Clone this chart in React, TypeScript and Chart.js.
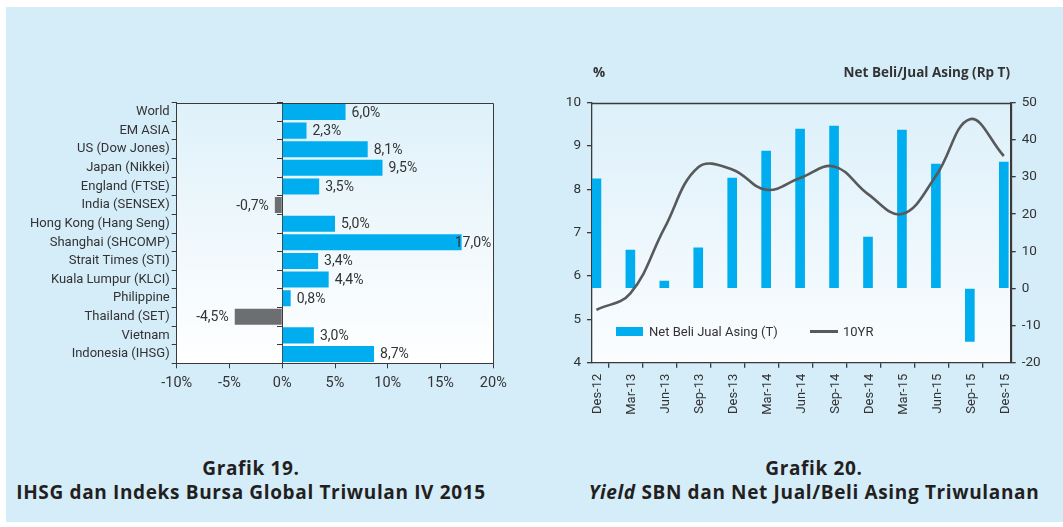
import React, { useEffect, useRef } from "react";
import { Chart, registerables } from "chart.js";

Chart.register(...registerables);

// ---------- Data: Grafik 19 ----------
const MARKETS = [
  "World",
  "EM ASIA",
  "US (Dow Jones)",
  "Japan (Nikkei)",
  "England (FTSE)",
  "India (SENSEX)",
  "Hong Kong (Hang Seng)",
  "Shanghai (SHCOMP)",
  "Strait Times (STI)",
  "Kuala Lumpur (KLCI)",
  "Philippine",
  "Thailand (SET)",
  "Vietnam",
  "Indonesia (IHSG)",
];
const RETURNS = [6.0, 2.3, 8.1, 9.5, 3.5, -0.7, 5.0, 17.0, 3.4, 4.4, 0.8, -4.5, 3.0, 8.7];
const RETURN_MIN = -10;
const RETURN_MAX = 20;
const RETURN_STEP = 5;

// ---------- Data: Grafik 20 ----------
const QUARTERS = [
  "Des-12", "Mar-13", "Jun-13", "Sep-13", "Des-13", "Mar-14", "Jun-14",
  "Sep-14", "Des-14", "Mar-15", "Jun-15", "Sep-15", "Des-15",
];
const NET_FOREIGN = [29.5, 10.3, 2.0, 10.9, 29.7, 37.0, 42.9, 43.7, 13.8, 42.6, 33.5, -14.3, 34.0];
const YIELD_10Y = [5.22, 5.6, 7.1, 8.51, 8.46, 7.99, 8.26, 8.53, 7.89, 7.43, 8.31, 9.62, 8.77];
const YIELD_MIN = 4;
const YIELD_MAX = 10;
const FLOW_MIN = -20;
const FLOW_MAX = 50;
const NET_LABEL = "Net Beli Jual Asing (T)";
const YIELD_LABEL = "10YR";
// dates sit a little after the quarter tick (month-end on a date axis)
const DATE_OFFSET = 0.13;
const AXIS_TAIL = 1 / 3;

const FONT = "Roboto, 'Open Sans', sans-serif";
const FONT_BOLD = "'Open Sans', 'Noto Sans', sans-serif";
const TEXT = "#333333";
const AXIS = "#3a3a3a";
const CYAN = "#00aeef";
const GREY_BAR = "#6d6e71";
const LINE = "#58595b";

const fmtPct = (v: number) => v.toFixed(1).replace(".", ",") + "%";

const plotFrame = (top: string, bottom: string, frame: boolean, lw: number) => ({
  id: "plotFrame",
  beforeDraw(chart: any) {
    const { ctx, chartArea: a } = chart;
    const g = ctx.createLinearGradient(0, a.top, 0, a.bottom);
    g.addColorStop(0, top);
    g.addColorStop(1, bottom);
    ctx.save();
    ctx.fillStyle = g;
    ctx.fillRect(a.left, a.top, a.right - a.left, a.bottom - a.top);
    ctx.restore();
  },
  beforeDatasetsDraw(chart: any) {
    if (!frame) return;
    const { ctx, chartArea: a } = chart;
    ctx.save();
    ctx.strokeStyle = AXIS;
    ctx.lineWidth = lw;
    ctx.beginPath();
    ctx.moveTo(Math.round(a.left), Math.round(a.top) + 0.5);
    ctx.lineTo(Math.round(a.right) + 0.5, Math.round(a.top) + 0.5);
    ctx.lineTo(Math.round(a.right) + 0.5, Math.round(a.bottom));
    ctx.stroke();
    ctx.restore();
  },
});

const barValueLabels = {
  id: "barValueLabels",
  afterDatasetsDraw(chart: any) {
    const { ctx, chartArea: a } = chart;
    const meta = chart.getDatasetMeta(0);
    ctx.save();
    ctx.font = `14px ${FONT}`;
    ctx.fillStyle = TEXT;
    ctx.textBaseline = "middle";
    meta.data.forEach((bar: any, i: number) => {
      const v = RETURNS[i];
      const txt = fmtPct(v);
      const w = ctx.measureText(txt).width;
      if (v >= 0) {
        let x = bar.x + 6;
        if (x + w > a.right - 2) x = a.right - 2 - w;
        ctx.textAlign = "left";
        ctx.fillText(txt, x, bar.y + 1);
      } else {
        ctx.textAlign = "right";
        ctx.fillText(txt, bar.x - 6, bar.y + 1);
      }
    });
    ctx.restore();
  },
};

function MarketsChart() {
  const ref = useRef<HTMLCanvasElement>(null);
  useEffect(() => {
    const H = 320;
    const chart = new Chart(ref.current as HTMLCanvasElement, {
      type: "bar",
      data: {
        labels: MARKETS,
        datasets: [
          {
            data: RETURNS,
            backgroundColor: RETURNS.map((v) => (v >= 0 ? CYAN : GREY_BAR)),
            categoryPercentage: 1,
            barPercentage: 0.86,
            yAxisID: "y",
          },
        ],
      },
      options: {
        indexAxis: "y",
        responsive: false,
        animation: false,
        events: [],
        layout: { padding: { top: 12.7, right: 46.7, left: 0, bottom: 0 } },
        plugins: { legend: { display: false }, tooltip: { enabled: false } },
        scales: {
          x: {
            type: "linear",
            min: RETURN_MIN,
            max: RETURN_MAX,
            ticks: {
              stepSize: RETURN_STEP,
              callback: (v: any) => v + "%",
              color: TEXT,
              font: { family: FONT, size: 14.5 },
              padding: 6,
              maxRotation: 0,
            },
            grid: { drawOnChartArea: false, tickLength: 5, color: AXIS },
            border: { color: AXIS, width: 1 },
            afterFit: (s: any) => {
              s.height = H - 273.3;
            },
          },
          y: {
            type: "category",
            position: "left",
            offset: true,
            ticks: { color: TEXT, font: { family: FONT, size: 13 }, padding: 2, autoSkip: false },
            grid: { offset: true, drawOnChartArea: false, tickLength: 5, color: AXIS },
            border: { color: AXIS, width: 1 },
            afterFit: (s: any) => {
              s.width = 176.7;
            },
          },
          y0: {
            type: "category",
            position: { x: 0 },
            offset: true,
            ticks: { display: false },
            grid: { offset: true, drawOnChartArea: false, tickLength: 5, color: AXIS },
            border: { color: AXIS, width: 1 },
          },
        },
      } as any,
      plugins: [plotFrame("#dff1fa", "#ffffff", true, 1), barValueLabels],
    });
    return () => chart.destroy();
  }, []);
  return (
    <canvas
      ref={ref}
      width={540}
      height={320}
      style={{ position: "absolute", left: 0, top: 90, width: 540, height: 320 }}
    />
  );
}

function YieldChart() {
  const ref = useRef<HTMLCanvasElement>(null);
  useEffect(() => {
    const W = 523;
    const H = 360;
    const chart = new Chart(ref.current as HTMLCanvasElement, {
      type: "bar",
      data: {
        datasets: [
          {
            type: "line",
            label: YIELD_LABEL,
            data: YIELD_10Y.map((v, i) => ({ x: i + DATE_OFFSET, y: v })),
            borderColor: LINE,
            borderWidth: 2.6,
            pointRadius: 0,
            tension: 0.4,
            fill: false,
            yAxisID: "y",
            order: 0,
          },
          {
            type: "bar",
            label: NET_LABEL,
            data: NET_FOREIGN.map((v, i) => ({ x: i + DATE_OFFSET, y: v })),
            backgroundColor: CYAN,
            barThickness: 9,
            yAxisID: "y1",
            order: 1,
          },
        ],
      },
      options: {
        responsive: false,
        animation: false,
        events: [],
        layout: { padding: { top: 42.7, right: 0, left: 0, bottom: 0 } },
        plugins: { legend: { display: false }, tooltip: { enabled: false } },
        scales: {
          x: {
            type: "linear",
            min: 0,
            max: QUARTERS.length - 1 + AXIS_TAIL,
            offset: false,
            afterBuildTicks: (s: any) => {
              s.ticks = QUARTERS.map((_, i) => ({ value: i }));
            },
            ticks: {
              autoSkip: false,
              maxRotation: 90,
              minRotation: 90,
              labelOffset: 6,
              padding: 6,
              color: TEXT,
              font: { family: FONT, size: 13 },
              callback: (_v: any, i: number) => QUARTERS[i],
            },
            grid: { drawOnChartArea: false, tickLength: 5, color: AXIS, lineWidth: 1.3 },
            border: { color: AXIS, width: 1.3 },
            afterFit: (s: any) => {
              s.height = H - 302.7;
            },
          },
          y: {
            type: "linear",
            position: "left",
            min: YIELD_MIN,
            max: YIELD_MAX,
            ticks: { stepSize: 1, color: TEXT, font: { family: FONT, size: 13.5 }, padding: 6 },
            grid: { drawOnChartArea: false, tickLength: 5, color: AXIS, lineWidth: 1.3 },
            border: { color: AXIS, width: 1.3 },
            afterFit: (s: any) => {
              s.width = 52;
            },
          },
          y1: {
            type: "linear",
            position: "right",
            min: FLOW_MIN,
            max: FLOW_MAX,
            ticks: { stepSize: 10, color: TEXT, font: { family: FONT, size: 13.5 }, padding: 6 },
            grid: { drawOnChartArea: false, tickLength: 5, color: AXIS, lineWidth: 1.3 },
            border: { color: AXIS, width: 1.3 },
            afterFit: (s: any) => {
              s.width = W - 470.7;
            },
          },
        },
      } as any,
      plugins: [plotFrame("#ddf0fa", "#fbfdff", true, 1.3)],
    });
    return () => chart.destroy();
  }, []);
  return (
    <canvas
      ref={ref}
      width={523}
      height={360}
      style={{ position: "absolute", left: 540, top: 60, width: 523, height: 360 }}
    />
  );
}

export default function App() {
  const caption: React.CSSProperties = {
    position: "absolute",
    textAlign: "center",
    fontFamily: FONT_BOLD,
    fontWeight: 700,
    fontSize: 19,
    letterSpacing: "0.65px",
    lineHeight: "24px",
    color: "#231f20",
    whiteSpace: "nowrap",
  };
  const small: React.CSSProperties = {
    position: "absolute",
    fontFamily: FONT,
    fontSize: 13,
    color: TEXT,
    whiteSpace: "nowrap",
    lineHeight: "16px",
  };
  const title: React.CSSProperties = {
    ...small,
    fontFamily: FONT_BOLD,
    fontWeight: 700,
    fontSize: 13.5,
  };
  return (
    <div
      style={{
        position: "absolute",
        left: 0,
        top: 0,
        width: 1063,
        height: 527,
        background: "#ffffff",
        overflow: "hidden",
      }}
    >
      <div
        style={{
          position: "absolute",
          left: 6,
          top: 7,
          width: 1057,
          height: 515,
          background: "#d5ecf9",
        }}
      />
      <MarketsChart />
      <YieldChart />
      <div style={{ ...title, left: 593, top: 64 }}>%</div>
      <div style={{ ...title, right: 1063 - 1010, top: 64 }}>Net Beli/Jual Asing (Rp T)</div>
      <div style={{ position: "absolute", left: 616, top: 327, width: 27, height: 9, background: CYAN }} />
      <div style={{ ...small, left: 649, top: 324 }}>{NET_LABEL}</div>
      <div style={{ position: "absolute", left: 810, top: 330, width: 28, height: 3, background: LINE }} />
      <div style={{ ...small, left: 843, top: 324 }}>{YIELD_LABEL}</div>
      <div style={{ ...caption, left: 0, width: 502, top: 456 }}>
        Grafik 19.
        <br />
        IHSG dan Indeks Bursa Global Triwulan IV 2015
      </div>
      <div style={{ ...caption, left: 563, width: 502, top: 456 }}>
        Grafik 20.
        <br />
        <i>Yield</i> SBN dan Net Jual/Beli Asing Triwulanan
      </div>
    </div>
  );
}
